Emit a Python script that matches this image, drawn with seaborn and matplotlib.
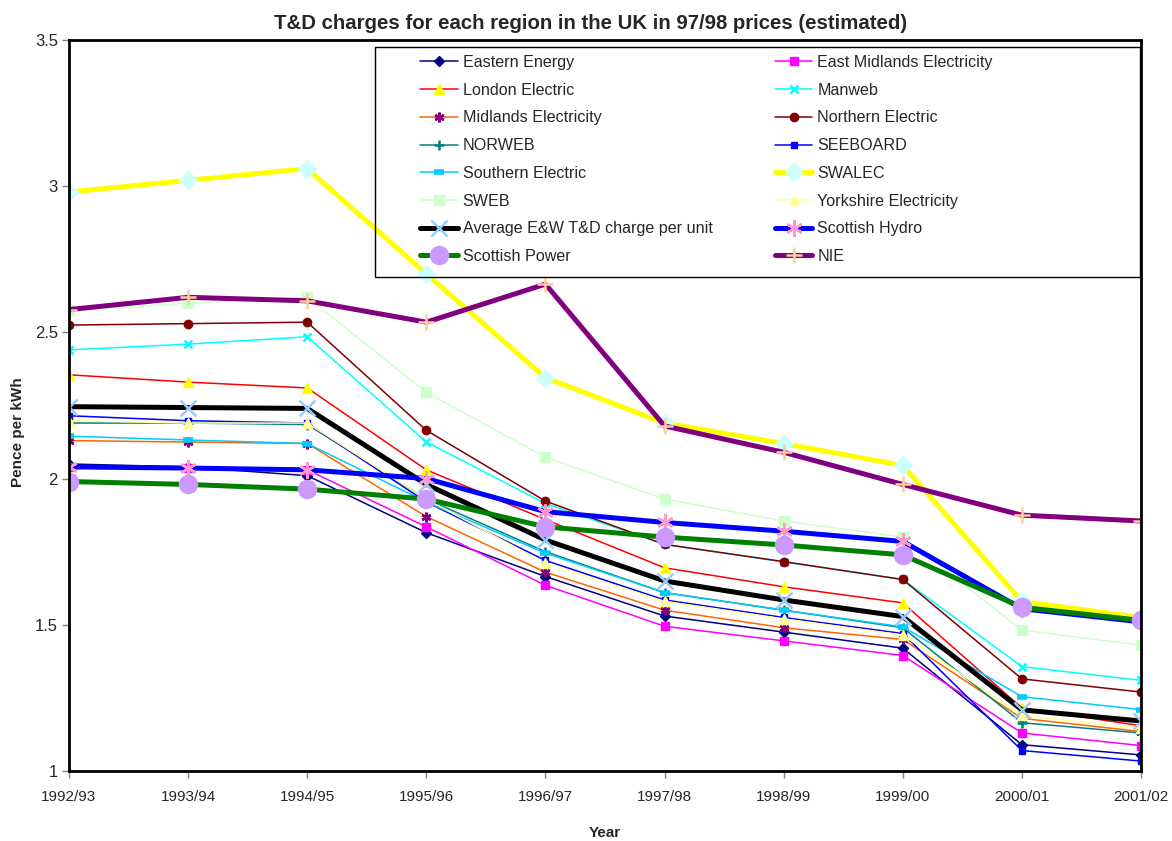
import matplotlib
matplotlib.use("Agg")
import matplotlib.pyplot as plt
from matplotlib.patches import Rectangle
import seaborn as sns
import numpy as np

years = ["1992/93", "1993/94", "1994/95", "1995/96", "1996/97",
         "1997/98", "1998/99", "1999/00", "2000/01", "2001/02"]

eastern = [2.05, 2.04, 2.01, 1.815, 1.665, 1.53, 1.475, 1.42, 1.09, 1.055]
east_midlands = [2.04, 2.035, 2.03, 1.835, 1.635, 1.495, 1.445, 1.395, 1.13, 1.087]
london = [2.355, 2.33, 2.31, 2.03, 1.86, 1.695, 1.63, 1.575, 1.215, 1.155]
manweb = [2.44, 2.46, 2.485, 2.125, 1.915, 1.775, 1.715, 1.655, 1.357, 1.31]
midlands = [2.13, 2.125, 2.12, 1.87, 1.68, 1.55, 1.49, 1.45, 1.18, 1.135]
northern = [2.525, 2.53, 2.535, 2.165, 1.923, 1.775, 1.716, 1.655, 1.315, 1.27]
norweb = [2.19, 2.19, 2.185, 1.93, 1.75, 1.61, 1.55, 1.49, 1.165, 1.13]
seeboard = [2.215, 2.198, 2.19, 1.92, 1.72, 1.585, 1.525, 1.47, 1.07, 1.034]
southern = [2.145, 2.132, 2.12, 1.92, 1.745, 1.61, 1.55, 1.493, 1.254, 1.21]
swalec = [2.98, 3.02, 3.06, 2.70, 2.345, 2.19, 2.12, 2.045, 1.58, 1.525]
sweb = [2.575, 2.60, 2.62, 2.295, 2.073, 1.93, 1.855, 1.80, 1.482, 1.43]
yorkshire = [2.198, 2.19, 2.19, 1.93, 1.71, 1.58, 1.52, 1.465, 1.19, 1.146]
average = [2.246, 2.243, 2.24, 1.98, 1.79, 1.65, 1.585, 1.528, 1.209, 1.171]
hydro = [2.04, 2.036, 2.03, 2.0, 1.887, 1.85, 1.82, 1.785, 1.555, 1.51]
power = [1.99, 1.98, 1.964, 1.93, 1.835, 1.80, 1.773, 1.739, 1.56, 1.515]
nie = [2.578, 2.62, 2.608, 2.535, 2.665, 2.18, 2.09, 1.98, 1.875, 1.855]

asterisk = (6, 2, 0)
# name, values, line colour, line width, marker, marker size, marker colour
series = [
    ("Eastern Energy", eastern, "#000080", 1.1, "D", 5, "#000080"),
    ("East Midlands Electricity", east_midlands, "#FF00FF", 1.1, "s", 6, "#FF00FF"),
    ("London Electric", london, "#FF0000", 1.1, "^", 7, "#FFFF00"),
    ("Manweb", manweb, "#00FFFF", 1.1, "x", 6, "#00FFFF"),
    ("Midlands Electricity", midlands, "#FF6600", 1.1, asterisk, 7, "#800080"),
    ("Northern Electric", northern, "#800000", 1.1, "o", 6, "#800000"),
    ("NORWEB", norweb, "#008080", 1.1, "+", 7, "#008080"),
    ("SEEBOARD", seeboard, "#0000FF", 1.1, "s", 4, "#0000FF"),
    ("Southern Electric", southern, "#00CCFF", 1.1, "_", 7, "#00CCFF"),
    ("SWALEC", swalec, "#FFFF00", 3.6, "D", 9, "#CCFFFF"),
    ("SWEB", sweb, "#CCFFCC", 1.1, "s", 7, "#CCFFCC"),
    ("Yorkshire Electricity", yorkshire, "#FFFF99", 1.1, "^", 7, "#FFFF99"),
    ("Average E&W T&D charge per unit", average, "#000000", 3.6, "x", 12, "#99CCFF"),
    ("Scottish Hydro", hydro, "#0000FF", 3.6, asterisk, 12, "#FF99CC"),
    ("Scottish Power", power, "#008000", 3.6, "o", 13, "#CC99FF"),
    ("NIE", nie, "#800080", 3.6, "+", 12, "#FFCC99"),
]

sns.set_style("white")
plt.rcParams["font.family"] = ["Liberation Sans", "DejaVu Sans"]

fig = plt.figure(figsize=(11.72, 8.41), dpi=100)
ax = fig.add_axes([69 / 1172, 70 / 841, 1072 / 1172, 731 / 841])

x = np.arange(len(years))
for name, vals, col, lw, mk, ms, mcol in series:
    mew = 1.8 if mk in ("x", "+") or mk == asterisk else 1.0
    if mk == "_":
        mew = 4
    sns.lineplot(x=x, y=vals, ax=ax, color=col, linewidth=lw, marker=mk,
                 markersize=ms, markerfacecolor=mcol, markeredgecolor=mcol,
                 markeredgewidth=mew, label=name)

ax.set_xlim(0, 9)
ax.set_ylim(1, 3.5)
ax.set_xticks(x)
ax.set_xticklabels(years, fontsize=11)
ax.set_yticks([1, 1.5, 2, 2.5, 3, 3.5])
ax.set_yticklabels(["1", "1.5", "2", "2.5", "3", "3.5"], fontsize=12)
ax.tick_params(axis="both", direction="out", length=5, width=1, color="#808080",
               bottom=True, left=True)
ax.tick_params(axis="x", pad=9)
ax.tick_params(axis="y", pad=3)
for sp in ax.spines.values():
    sp.set_color("black")
    sp.set_linewidth(2)

ax.set_title("T&D charges for each region in the UK in 97/98 prices (estimated)",
             fontsize=14.7, fontweight="bold", pad=8, x=(591 - 69) / 1072)
ax.set_xlabel("Year", fontsize=11, fontweight="bold")
ax.set_ylabel("Pence per kWh", fontsize=11, fontweight="bold")
ax.xaxis.set_label_coords(0.5, (771 - 826) / 731)
ax.yaxis.set_label_coords((25 - 69) / 1072, (771 - 432) / 731)

handles, labels = ax.get_legend_handles_labels()
order = list(range(0, len(handles), 2)) + list(range(1, len(handles), 2))
ax.legend([handles[i] for i in order], [labels[i] for i in order], ncol=2,
          loc="upper left", bbox_to_anchor=((420 - 69) / 1072, 1 - 15 / 731),
          frameon=False, fontsize=11.6, handlelength=2.35, handletextpad=0.3,
          columnspacing=3.85, labelspacing=0.79, borderaxespad=0, borderpad=0)
ax.add_patch(Rectangle(((375 - 69) / 1072, 1 - 237 / 731), (1140 - 375) / 1072, 230 / 731,
                       transform=ax.transAxes, fill=False, edgecolor="black",
                       linewidth=1, zorder=5))

fig.savefig("out.png", dpi=100)
